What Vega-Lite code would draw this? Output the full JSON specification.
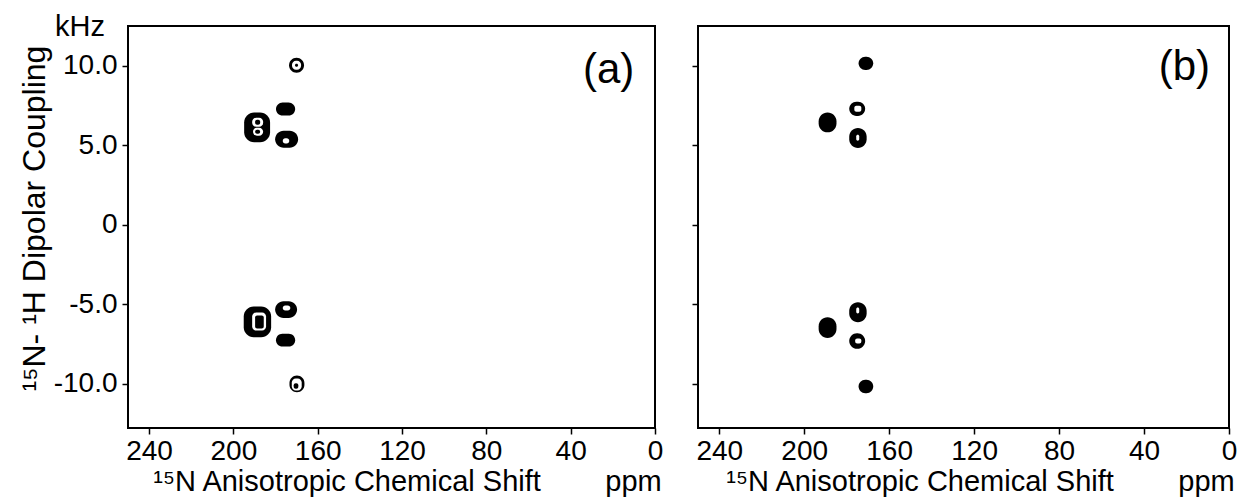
{
  "$schema": "https://vega.github.io/schema/vega-lite/v6.json",
  "autosize": {"type": "pad"},
  "padding": {"left": 16, "top": 12, "right": 5, "bottom": 0},
  "background": "white",
  "bounds": "flush",
  "spacing": 43,
  "config": {
    "font": "Liberation Sans",
    "view": {"stroke": "black", "strokeWidth": 2},
    "axis": {
      "grid": false,
      "domain": false,
      "tickColor": "black",
      "tickWidth": 1.5,
      "tickSize": 6,
      "labelColor": "black",
      "titleColor": "black",
      "labelFont": "Liberation Sans",
      "titleFont": "Liberation Sans",
      "titleFontWeight": "normal",
      "labelFontSize": 28,
      "labelFlush": false
    }
  },
  "datasets": {
    "peaks": [
      {"panel": "a", "level": 1, "x1": 173.6, "x2": 166.5, "y1": 10.5, "y2": 9.56},
      {"panel": "a", "level": 1, "x1": 179.8, "x2": 170.7, "y1": 7.69, "y2": 6.86},
      {"panel": "a", "level": 1, "x1": 194.9, "x2": 182.6, "y1": 7.06, "y2": 5.18},
      {"panel": "a", "level": 1, "x1": 180.2, "x2": 169.3, "y1": 5.91, "y2": 4.84},
      {"panel": "a", "level": 1, "x1": 195.1, "x2": 182.1, "y1": -5.16, "y2": -7.09},
      {"panel": "a", "level": 1, "x1": 180.2, "x2": 169.8, "y1": -4.82, "y2": -5.87},
      {"panel": "a", "level": 1, "x1": 179.8, "x2": 170.7, "y1": -6.87, "y2": -7.67},
      {"panel": "a", "level": 1, "x1": 173.4, "x2": 166.3, "y1": -9.5, "y2": -10.55},
      {"panel": "a", "level": 2, "x1": 172.2, "x2": 167.9, "y1": 10.31, "y2": 9.75},
      {"panel": "a", "level": 2, "x1": 191.1, "x2": 185.9, "y1": 6.73, "y2": 6.16},
      {"panel": "a", "level": 2, "x1": 190.7, "x2": 185.9, "y1": 6.1, "y2": 5.6},
      {"panel": "a", "level": 2, "x1": 176.6, "x2": 173.5, "y1": 5.43, "y2": 5.11},
      {"panel": "a", "level": 2, "x1": 191.1, "x2": 184.5, "y1": -5.53, "y2": -6.67},
      {"panel": "a", "level": 2, "x1": 176.6, "x2": 173.0, "y1": -5.09, "y2": -5.41},
      {"panel": "a", "level": 2, "x1": 172.3, "x2": 167.6, "y1": -9.69, "y2": -10.44},
      {"panel": "a", "level": 3, "x1": 170.8, "x2": 169.3, "y1": 10.13, "y2": 9.94},
      {"panel": "a", "level": 3, "x1": 189.7, "x2": 187.3, "y1": 6.6, "y2": 6.29},
      {"panel": "a", "level": 3, "x1": 189.7, "x2": 187.3, "y1": 5.97, "y2": 5.72},
      {"panel": "a", "level": 3, "x1": 189.7, "x2": 185.6, "y1": -5.72, "y2": -6.54},
      {"panel": "a", "level": 3, "x1": 171.4, "x2": 169.2, "y1": -9.98, "y2": -10.33},
      {"panel": "b", "level": 1, "x1": 174.4, "x2": 167.5, "y1": 10.57, "y2": 9.73},
      {"panel": "b", "level": 1, "x1": 178.8, "x2": 171.3, "y1": 7.74, "y2": 6.84},
      {"panel": "b", "level": 1, "x1": 193.2, "x2": 184.8, "y1": 7.06, "y2": 5.81},
      {"panel": "b", "level": 1, "x1": 178.8, "x2": 170.6, "y1": 6.08, "y2": 4.82},
      {"panel": "b", "level": 1, "x1": 178.8, "x2": 170.6, "y1": -4.89, "y2": -6.14},
      {"panel": "b", "level": 1, "x1": 193.2, "x2": 184.8, "y1": -5.83, "y2": -7.13},
      {"panel": "b", "level": 1, "x1": 178.8, "x2": 171.3, "y1": -6.84, "y2": -7.82},
      {"panel": "b", "level": 1, "x1": 174.4, "x2": 167.5, "y1": -9.77, "y2": -10.61},
      {"panel": "b", "level": 2, "x1": 176.4, "x2": 173.1, "y1": 7.48, "y2": 7.11},
      {"panel": "b", "level": 2, "x1": 175.5, "x2": 174.1, "y1": 5.66, "y2": 5.28},
      {"panel": "b", "level": 2, "x1": 175.5, "x2": 174.1, "y1": -5.22, "y2": -5.6},
      {"panel": "b", "level": 2, "x1": 176.0, "x2": 173.1, "y1": -7.17, "y2": -7.48}
    ],
    "labels": [
      {"panel": "a", "label": "(a)", "x": 22, "y": 9.7},
      {"panel": "b", "label": "(b)", "x": 21, "y": 9.9}
    ]
  },
  "hconcat": [
    {
      "width": 527,
      "height": 402,
      "title": {"text": "kHz", "anchor": "start", "frame": "group", "fontSize": 29, "fontWeight": "normal", "font": "Liberation Sans", "color": "black", "dx": -73, "dy": 27, "offset": -12, "baseline": "alphabetic"},
      "layer": [
        {
          "data": {"name": "peaks"},
          "transform": [{"filter": "datum.panel == 'a' && datum.level == 1"}],
          "mark": {"type": "rect", "cornerRadius": 10, "fill": "black"},
          "encoding": {
            "x": {"field": "x1", "type": "quantitative", "scale": {"domain": [250, 0], "nice": false, "zero": false},
              "axis": {"values": [240, 200, 160, 120, 80, 40, 0], "title": "¹⁵N Anisotropic Chemical Shift\u00a0\u00a0\u00a0\u00a0\u00a0\u00a0\u00a0\u00a0ppm", "titleFontSize": 29, "labelPadding": 3, "titlePadding": 2, "titleX": 279}},
            "x2": {"field": "x2"},
            "y": {"field": "y1", "type": "quantitative", "scale": {"domain": [-12.8, 12.5], "nice": false, "zero": false},
              "axis": {"values": [10, 5, 0, -5, -10], "labelExpr": "datum.value == 0 ? '0' : (datum.value < 0 ? '-' : '') + format(abs(datum.value), '.1f')", "labelPadding": 5, "title": "¹⁵N- ¹H Dipolar Coupling", "titleFontSize": 32, "titleAngle": 270, "titleBaseline": "alphabetic", "titleAlign": "center", "titleX": -84, "titleY": 192}},
            "y2": {"field": "y2"}
          }
        },
        {
          "data": {"name": "peaks"},
          "transform": [{"filter": "datum.panel == 'a' && datum.level == 2"}],
          "mark": {"type": "rect", "cornerRadius": 4, "fill": "white"},
          "encoding": {
            "x": {"field": "x1", "type": "quantitative"},
            "x2": {"field": "x2"},
            "y": {"field": "y1", "type": "quantitative"},
            "y2": {"field": "y2"}
          }
        },
        {
          "data": {"name": "peaks"},
          "transform": [{"filter": "datum.panel == 'a' && datum.level == 3"}],
          "mark": {"type": "rect", "cornerRadius": 2, "fill": "black"},
          "encoding": {
            "x": {"field": "x1", "type": "quantitative"},
            "x2": {"field": "x2"},
            "y": {"field": "y1", "type": "quantitative"},
            "y2": {"field": "y2"}
          }
        },
        {
          "data": {"name": "labels"},
          "transform": [{"filter": "datum.panel == 'a'"}],
          "mark": {"type": "text", "fontSize": 42, "font": "Liberation Sans", "color": "black", "align": "center", "baseline": "middle"},
          "encoding": {
            "x": {"field": "x", "type": "quantitative"},
            "y": {"field": "y", "type": "quantitative"},
            "text": {"field": "label"}
          }
        }
      ]
    },
    {
      "width": 531,
      "height": 402,
      "layer": [
        {
          "data": {"name": "peaks"},
          "transform": [{"filter": "datum.panel == 'b' && datum.level == 1"}],
          "mark": {"type": "rect", "cornerRadius": 10, "fill": "black"},
          "encoding": {
            "x": {"field": "x1", "type": "quantitative", "scale": {"domain": [250, 0], "nice": false, "zero": false},
              "axis": {"values": [240, 200, 160, 120, 80, 40, 0], "title": "¹⁵N Anisotropic Chemical Shift\u00a0\u00a0\u00a0\u00a0\u00a0\u00a0\u00a0\u00a0ppm", "titleFontSize": 29, "labelPadding": 3, "titlePadding": 2, "titleX": 282}},
            "x2": {"field": "x2"},
            "y": {"field": "y1", "type": "quantitative", "scale": {"domain": [-12.8, 12.5], "nice": false, "zero": false},
              "axis": {"values": [10, 5, 0, -5, -10], "labels": false, "title": null}},
            "y2": {"field": "y2"}
          }
        },
        {
          "data": {"name": "peaks"},
          "transform": [{"filter": "datum.panel == 'b' && datum.level == 2"}],
          "mark": {"type": "rect", "cornerRadius": 2, "fill": "white"},
          "encoding": {
            "x": {"field": "x1", "type": "quantitative"},
            "x2": {"field": "x2"},
            "y": {"field": "y1", "type": "quantitative"},
            "y2": {"field": "y2"}
          }
        },
        {
          "data": {"name": "labels"},
          "transform": [{"filter": "datum.panel == 'b'"}],
          "mark": {"type": "text", "fontSize": 42, "font": "Liberation Sans", "color": "black", "align": "center", "baseline": "middle"},
          "encoding": {
            "x": {"field": "x", "type": "quantitative"},
            "y": {"field": "y", "type": "quantitative"},
            "text": {"field": "label"}
          }
        }
      ]
    }
  ]
}
